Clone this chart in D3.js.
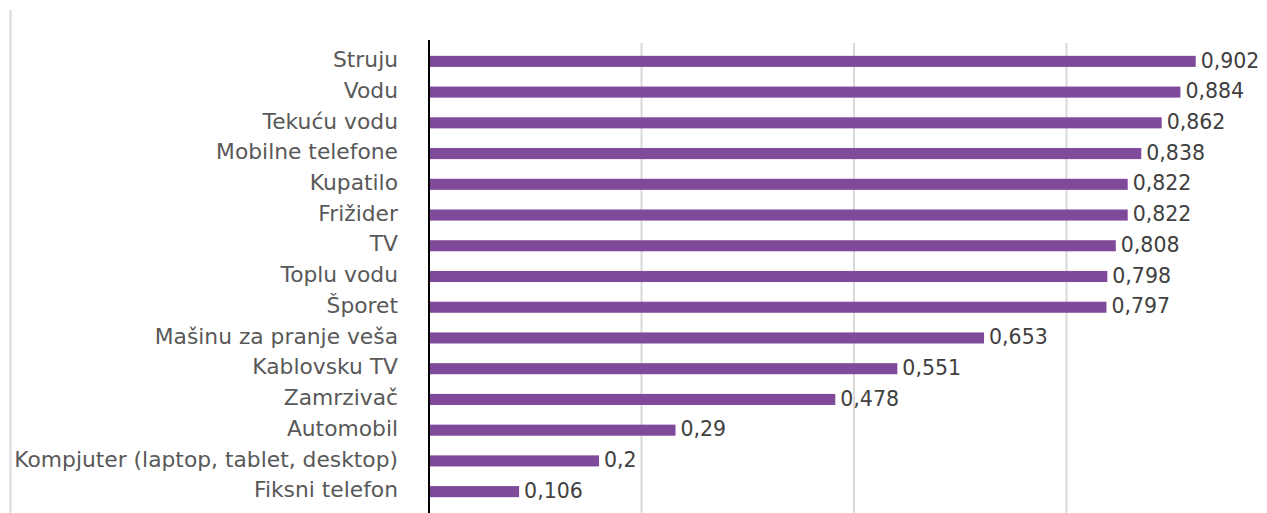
<!DOCTYPE html>
<html>
<head>
<meta charset="utf-8">
<script src="https://cdn.jsdelivr.net/npm/d3@7"></script>
<style>
  body { margin: 0; background: #fff; }
  svg { display: block; }
</style>
</head>
<body>
<svg width="1267" height="513"></svg>
<script>
// categories top to bottom
var categories = ["Struju", "Vodu", "Tekuću vodu", "Mobilne telefone", "Kupatilo", "Frižider", "TV",
  "Toplu vodu", "Šporet", "Mašinu za pranje veša", "Kablovsku TV", "Zamrzivač", "Automobil",
  "Kompjuter (laptop, tablet, desktop)", "Fiksni telefon"];
var values = [0.902, 0.884, 0.862, 0.838, 0.822, 0.822, 0.808, 0.798, 0.797, 0.653, 0.551, 0.478, 0.29, 0.2, 0.106];
var gridTicks = [0.25, 0.5, 0.75];

var svg = d3.select("svg"),
  x0 = 429, x1 = 1279,
  yTop = 46, yBottom = 507;

var x = d3.scaleLinear().domain([0, 1]).range([x0, x1]);
var y = d3.scaleBand().domain(categories).range([yTop, yBottom]).paddingInner(0.64).paddingOuter(0.32);

var fmt = function(v) { return String(v).replace(".", ","); };

// outer left frame line
svg.append("line")
  .attr("x1", 10.5).attr("x2", 10.5).attr("y1", 10).attr("y2", 513)
  .attr("stroke", "#d9d9d9").attr("stroke-width", 2);

// gridlines
svg.selectAll(".grid").data(gridTicks).enter().append("line")
  .attr("class", "grid")
  .attr("x1", function(d) { return x(d); }).attr("x2", function(d) { return x(d); })
  .attr("y1", 43).attr("y2", 513)
  .attr("stroke", "#d9d9d9").attr("stroke-width", 2);

// bars
svg.selectAll(".bar").data(values).enter().append("rect")
  .attr("class", "bar")
  .attr("x", x(0))
  .attr("y", function(d, i) { return y(categories[i]); })
  .attr("width", function(d) { return x(d) - x(0); })
  .attr("height", y.bandwidth())
  .attr("fill", "#7f4a9a");

// value labels
svg.selectAll(".val").data(values).enter().append("text")
  .attr("class", "val")
  .attr("x", function(d) { return x(d) + 5; })
  .attr("y", function(d, i) { return y(categories[i]) + y.bandwidth() / 2; })
  .attr("dy", "0.3em")
  .style("font", "20.5px 'DejaVu Sans'")
  .attr("fill", "#404040")
  .text(fmt);

// category axis
var ax = svg.append("g")
  .attr("transform", "translate(" + x0 + ",0)")
  .call(d3.axisLeft(y).tickSize(0).tickPadding(31));
ax.select(".domain").remove();
ax.selectAll("text")
  .attr("dy", "0.26em")
  .style("font", "21.8px 'DejaVu Sans'")
  .attr("fill", "#595959");

svg.append("line")
  .attr("x1", x0).attr("x2", x0).attr("y1", 40).attr("y2", 513)
  .attr("stroke", "#000").attr("stroke-width", 2);
</script>
</body>
</html>
